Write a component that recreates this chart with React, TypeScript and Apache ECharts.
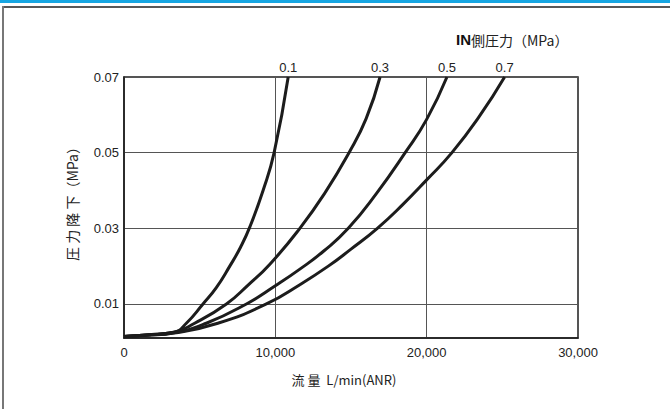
import React, { useEffect, useRef } from "react";
import * as echarts from "echarts";

const pressures = ["0.1", "0.3", "0.5", "0.7"];

const flow01 = [0, 1500, 3300, 4120, 5220, 6100, 6990, 7700, 8310, 9190, 9920, 10850];
const drop01 = [0.0014, 0.0018, 0.0025, 0.0049, 0.01, 0.0143, 0.02, 0.025, 0.0303, 0.04, 0.05, 0.07];

const flow03 = [0, 1500, 3300, 4670, 6770, 8200, 9640, 11620, 13300, 14870, 16000, 16920];
const drop03 = [0.0014, 0.0018, 0.0025, 0.0049, 0.01, 0.015, 0.0205, 0.03, 0.0395, 0.05, 0.059, 0.07];

const flow05 = [0, 1500, 3300, 5440, 8090, 10000, 11620, 13200, 14820, 16700, 18580, 20000, 21340];
const drop05 = [0.0014, 0.0018, 0.0024, 0.0049, 0.01, 0.0148, 0.0192, 0.024, 0.03, 0.0393, 0.05, 0.0588, 0.07];

const flow07 = [0, 1500, 3300, 6200, 9410, 11620, 13500, 15000, 16740, 18400, 20000, 21670, 23500, 25150];
const drop07 = [0.0014, 0.0017, 0.0023, 0.0049, 0.01, 0.0151, 0.02, 0.0245, 0.03, 0.0362, 0.0428, 0.05, 0.0597, 0.07];

const xTicks = [0, 10000, 20000, 30000];
const yTicks = [0.01, 0.03, 0.05, 0.07];

const FONT = "'Liberation Sans', Arial, 'Noto Sans CJK JP', sans-serif";
const CJK = "'Noto Sans CJK JP', 'Liberation Sans', sans-serif";

function buildSeries(name: string, xs: number[], ys: number[]) {
  return {
    name,
    type: "line",
    data: xs.map((x, i) => [x, ys[i]]),
    smooth: 0.5,
    showSymbol: false,
    symbol: "none",
    clip: false,
    lineStyle: { color: "#1c1c1c", width: 3 },
    emphasis: { disabled: true },
    endLabel: {
      show: true,
      formatter: name,
      color: "#222",
      fontSize: 13,
      fontFamily: FONT,
      distance: 0,
      align: "center",
      verticalAlign: "bottom",
      offset: [0, -3],
    },
    z: 5,
  };
}

export default function App() {
  const ref = useRef<HTMLDivElement>(null);
  useEffect(() => {
    document.body.style.margin = "0";
    const chart = echarts.init(ref.current!, null, { renderer: "svg" });
    chart.setOption({
      animation: false,
      backgroundColor: "#fff",
      title: {
        text: "{b|IN}{n|側圧力（MPa）}",
        left: 451,
        top: 27,
        textStyle: {
          fontWeight: "normal",
          rich: {
            b: { fontSize: 15, fontWeight: "bold", color: "#111", fontFamily: FONT },
            n: { fontSize: 14, fontWeight: "normal", color: "#222", fontFamily: CJK },
          },
        },
      },
      graphic: [
        { type: "rect", shape: { x: 0, y: 0, width: 670, height: 3 }, style: { fill: "#17a6e2" } },
        { type: "line", shape: { x1: 2, y1: 7, x2: 670, y2: 7 }, style: { stroke: "#222", lineWidth: 1.5 } },
        { type: "line", shape: { x1: 3, y1: 6, x2: 3, y2: 409 }, style: { stroke: "#777", lineWidth: 2 } },
      ],
      grid: {
        left: 124,
        right: 92,
        top: 77,
        bottom: 71,
        show: true,
        borderColor: "#1e1e1e",
        borderWidth: 1.5,
        backgroundColor: "transparent",
      },
      xAxis: {
        type: "value",
        min: 0,
        max: 30000,
        interval: 10000,
        name: "流 量  L/min(ANR)",
        nameLocation: "middle",
        nameGap: 35,
        nameTextStyle: { fontSize: 13, color: "#222", fontFamily: CJK, padding: [0, 14, 0, 0] },
        axisLine: { show: true, lineStyle: { color: "#1e1e1e", width: 1.5 } },
        axisTick: { show: false },
        axisLabel: {
          color: "#222",
          fontSize: 13,
          fontFamily: FONT,
          margin: 8,
          customValues: xTicks,
          formatter: (v: number) => v.toLocaleString("en-US"),
        },
        splitLine: { show: true, lineStyle: { color: "#555", width: 1 } },
      },
      yAxis: {
        type: "value",
        min: 0.001,
        max: 0.07,
        name: "圧 力 降 下（MPa）",
        nameLocation: "middle",
        nameRotate: 90,
        nameGap: 45,
        nameTextStyle: { fontSize: 14, color: "#222", fontFamily: CJK, padding: [0, 0, 0, 14] },
        axisLine: { show: true, lineStyle: { color: "#1e1e1e", width: 1.5 } },
        axisTick: { show: false, customValues: yTicks },
        axisLabel: {
          color: "#222",
          fontSize: 13,
          fontFamily: FONT,
          margin: 5,
          customValues: yTicks,
          formatter: (v: number) => v.toFixed(2),
        },
        splitLine: { show: true, lineStyle: { color: "#555", width: 1 } },
      },
      series: [
        buildSeries(pressures[0], flow01, drop01),
        buildSeries(pressures[1], flow03, drop03),
        buildSeries(pressures[2], flow05, drop05),
        buildSeries(pressures[3], flow07, drop07),
      ],
    });
    return () => chart.dispose();
  }, []);
  return (
    <div
      ref={ref}
      style={{ position: "absolute", left: 0, top: 0, width: 670, height: 409 }}
    />
  );
}
